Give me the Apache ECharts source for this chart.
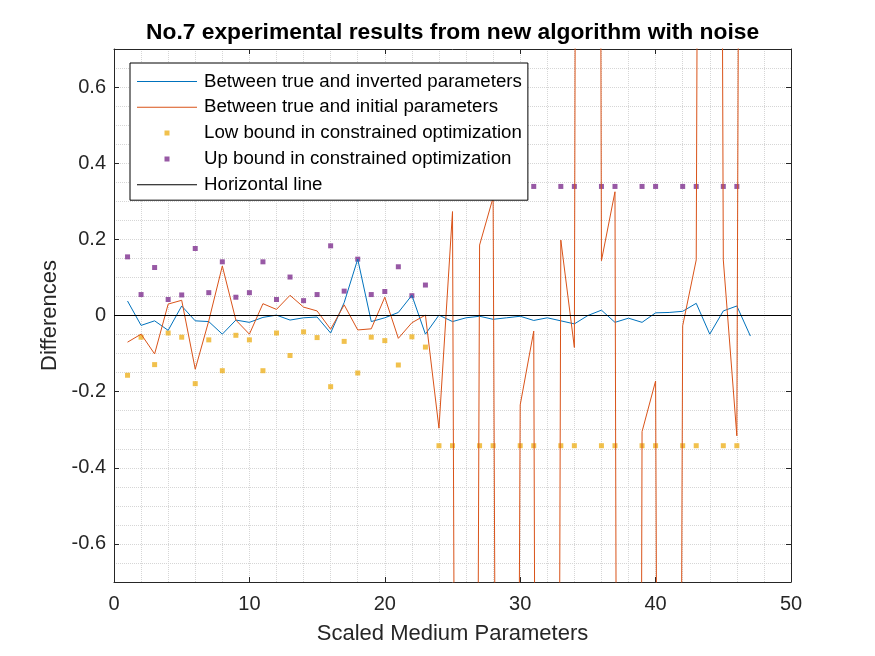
<!DOCTYPE html>
<html>
<head>
<meta charset="utf-8">
<title>No.7 experimental results</title>
<script src="https://cdn.jsdelivr.net/npm/echarts@6/dist/echarts.min.js"></script>
<style>
  html, body { margin: 0; padding: 0; background: #fff; }
  #container { width: 875px; height: 656px; }
</style>
</head>
<body>
<div id="container"></div>
<script>
// parameter index on the x axis
var paramIdx = [1, 2, 3, 4, 5, 6, 7, 8, 9, 10, 11, 12, 13, 14, 15, 16, 17, 18, 19, 20, 21, 22, 23, 24,
    25, 26, 27, 28, 29, 30, 31, 32, 33, 34, 35, 36, 37, 38, 39, 40, 41, 42, 43, 44, 45, 46, 47];

// true - inverted
var invertedDiff = [0.038, -0.026, -0.014, -0.039, 0.025, -0.014, -0.016, -0.049, -0.012, -0.018,
    -0.005, 0.001, -0.012, -0.006, -0.004, -0.046, 0.034, 0.148, -0.016, -0.006, 0.008, 0.053, -0.049,
    0.001, -0.016, -0.006, -0.002, -0.010, -0.006, -0.002, -0.013, -0.006, -0.014, -0.022, 0.000, 0.014,
    -0.018, -0.007, -0.018, 0.007, 0.008, 0.011, 0.032, -0.049, 0.012, 0.025, -0.054];

// true - initial (large ones run off the plot)
var initialDiff = [-0.070, -0.049, -0.101, 0.030, 0.040, -0.141, -0.014, 0.130, -0.012, -0.049,
    0.031, 0.016, 0.053, 0.022, 0.012, -0.036, 0.028, -0.038, -0.035, 0.048, -0.060, -0.019, 0.001,
    -0.296, 0.273, -9, 0.185, 0.31, -8, -0.235, -0.041, -11, 0.198, -0.084, 14, 0.144, 0.325, -13,
    -0.305, -0.172, -9, -0.027, 0.146, 10, 0.146, -0.316, 9.7];

// bounds of the constrained optimization
var boundIdx = [1, 2, 3, 4, 5, 6, 7, 8, 9, 10, 11, 12, 13, 14, 15, 16, 17, 18, 19, 20, 21, 22, 23,
    24, 25, 27, 28, 30, 31, 33, 34, 36, 37, 39, 40, 42, 43, 45, 46];
var lowBound = [-0.157, -0.057, -0.129, -0.046, -0.057, -0.179, -0.064, -0.145, -0.052, -0.064,
    -0.145, -0.046, -0.105, -0.043, -0.058, -0.187, -0.068, -0.151, -0.057, -0.066, -0.130, -0.056, -0.083,
    -0.342, -0.342, -0.342, -0.342, -0.342, -0.342, -0.342, -0.342, -0.342, -0.342, -0.342, -0.342,
    -0.342, -0.342, -0.342, -0.342];
var upBound = [0.154, 0.055, 0.126, 0.042, 0.054, 0.176, 0.060, 0.141, 0.048, 0.060,
    0.141, 0.042, 0.101, 0.039, 0.055, 0.183, 0.064, 0.148, 0.055, 0.063, 0.128, 0.052, 0.080,
    0.339, 0.339, 0.339, 0.339, 0.339, 0.339, 0.339, 0.339, 0.339, 0.339, 0.339, 0.339,
    0.339, 0.339, 0.339, 0.339];

// horizontal reference line
var hLineX = [0, 50];
var hLineY = [0, 0];

var xTicks = { min: 0, max: 50, step: 10, minorStep: 2 };
var yRange = { min: -0.7, max: 0.7, minorStep: 0.05 };

function zip(xs, ys) {
    var out = [];
    for (var i = 0; i < xs.length; i++) {
        out.push([xs[i], ys[i]]);
    }
    return out;
}

var font = 'Liberation Sans, Arial, Helvetica, sans-serif';
var axisColor = '#262626';
// legend icons drawn inside an empty 60x14 box
var dotIcon = 'path://M0,0L0,0ZM60,14L60,14ZM27.5,4.5L32.5,4.5L32.5,9.5L27.5,9.5Z';
var lineIcon = 'path://M0,0L0,0ZM60,14L60,14ZM0,6.5L60,6.5L60,7.5L0,7.5Z';

var dom = document.getElementById('container');
var myChart = echarts.init(dom, null, { renderer: 'canvas' });

var option = {
    animation: false,
    backgroundColor: '#fff',
    title: {
        text: 'No.7 experimental results from new algorithm with noise',
        left: 146,
        top: 21,
        padding: 0,
        textStyle: { fontFamily: font, fontSize: 22.8, fontWeight: 'bold', color: '#000' }
    },
    legend: {
        orient: 'vertical',
        left: 130,
        top: 63,
        padding: [9, 6, 6, 7],
        itemWidth: 60,
        itemHeight: 14,
        itemGap: 6.8,
        backgroundColor: '#fff',
        borderColor: '#000',
        borderWidth: 1,
        borderRadius: 0,
        textStyle: { fontFamily: font, fontSize: 18.7, color: '#000', lineHeight: 19, padding: [0, 0, 0, 2] },
        data: [
            { name: 'Between true and inverted parameters', icon: lineIcon, itemStyle: { color: '#0072BD', borderWidth: 0 } },
            { name: 'Between true and initial parameters', icon: lineIcon, itemStyle: { color: '#D95319', borderWidth: 0 } },
            { name: 'Low bound in constrained optimization', icon: dotIcon, itemStyle: { borderWidth: 0 } },
            { name: 'Up bound in constrained optimization', icon: dotIcon, itemStyle: { borderWidth: 0 } },
            { name: 'Horizontal line', icon: lineIcon, itemStyle: { color: '#000', borderWidth: 0 } }
        ]
    },
    grid: { left: 114, right: 84, top: 49, bottom: 74, containLabel: false },
    xAxis: [
        {
            type: 'value', position: 'bottom',
            min: xTicks.min, max: xTicks.max, interval: xTicks.step,
            name: 'Scaled Medium Parameters', nameLocation: 'middle', nameGap: 41,
            nameTextStyle: { fontFamily: font, fontSize: 22, color: axisColor },
            axisLine: { show: true, onZero: false, lineStyle: { color: axisColor, width: 1 } },
            axisTick: { show: true, inside: true, length: 5, lineStyle: { color: axisColor } },
            axisLabel: { fontFamily: font, fontSize: 20, color: axisColor, margin: 12 },
            splitLine: { show: true, lineStyle: { color: '#c4c4c4', type: 'dotted', width: 1 } }
        },
        {
            type: 'value', position: 'top',
            min: xTicks.min, max: xTicks.max, interval: xTicks.step,
            axisLine: { show: true, onZero: false, lineStyle: { color: axisColor, width: 1 } },
            axisTick: { show: true, inside: true, length: 5, lineStyle: { color: axisColor } },
            axisLabel: { show: false },
            splitLine: { show: false }
        },
        {
            type: 'value', position: 'bottom',
            min: xTicks.min, max: xTicks.max, interval: xTicks.minorStep,
            axisLine: { show: false },
            axisTick: { show: false },
            axisLabel: { show: false },
            splitLine: { show: true, lineStyle: { color: '#d6d6d6', type: 'dotted', width: 1 } }
        }
    ],
    yAxis: [
        {
            type: 'value', position: 'left',
            min: yRange.min, max: yRange.max, splitNumber: 7,
            name: 'Differences', nameLocation: 'middle', nameGap: 52,
            nameTextStyle: { fontFamily: font, fontSize: 22, color: axisColor },
            axisLine: { show: true, onZero: false, lineStyle: { color: axisColor, width: 1 } },
            axisTick: { show: true, inside: true, length: 5, lineStyle: { color: axisColor } },
            axisLabel: {
                fontFamily: font, fontSize: 20, color: axisColor, margin: 8,
                showMinLabel: false, showMaxLabel: false,
                formatter: function (v) { return v === 0 ? '0' : v.toFixed(1); }
            },
            splitLine: { show: true, lineStyle: { color: '#c4c4c4', type: 'dotted', width: 1 } }
        },
        {
            type: 'value', position: 'right',
            min: yRange.min, max: yRange.max, splitNumber: 7,
            axisLine: { show: true, onZero: false, lineStyle: { color: axisColor, width: 1 } },
            axisTick: { show: true, inside: true, length: 5, lineStyle: { color: axisColor } },
            axisLabel: { show: false },
            splitLine: { show: false }
        },
        {
            type: 'value', position: 'left',
            min: yRange.min, max: yRange.max, interval: yRange.minorStep,
            axisLine: { show: false },
            axisTick: { show: false },
            axisLabel: { show: false },
            splitLine: { show: true, lineStyle: { color: '#d6d6d6', type: 'dotted', width: 1 } }
        }
    ],
    series: [
        {
            name: 'Between true and inverted parameters',
            type: 'line',
            data: zip(paramIdx, invertedDiff),
            symbol: 'none',
            color: '#0072BD',
            lineStyle: { width: 1, color: '#0072BD' }
        },
        {
            name: 'Between true and initial parameters',
            type: 'line',
            data: zip(paramIdx, initialDiff),
            symbol: 'none',
            clip: true,
            color: '#D95319',
            lineStyle: { width: 1, color: '#D95319' }
        },
        {
            name: 'Low bound in constrained optimization',
            type: 'scatter',
            data: zip(boundIdx, lowBound),
            symbol: 'rect',
            symbolSize: 5,
            color: '#EDB120',
            itemStyle: { color: '#EDB120' }
        },
        {
            name: 'Up bound in constrained optimization',
            type: 'scatter',
            data: zip(boundIdx, upBound),
            symbol: 'rect',
            symbolSize: 5,
            color: '#7E2F8E',
            itemStyle: { color: '#7E2F8E' }
        },
        {
            name: 'Horizontal line',
            type: 'line',
            data: zip(hLineX, hLineY),
            symbol: 'none',
            color: '#000',
            lineStyle: { width: 1, color: '#000' }
        }
    ]
};

if (option && typeof option === 'object') {
    myChart.setOption(option, true);
}
</script>
</body>
</html>
